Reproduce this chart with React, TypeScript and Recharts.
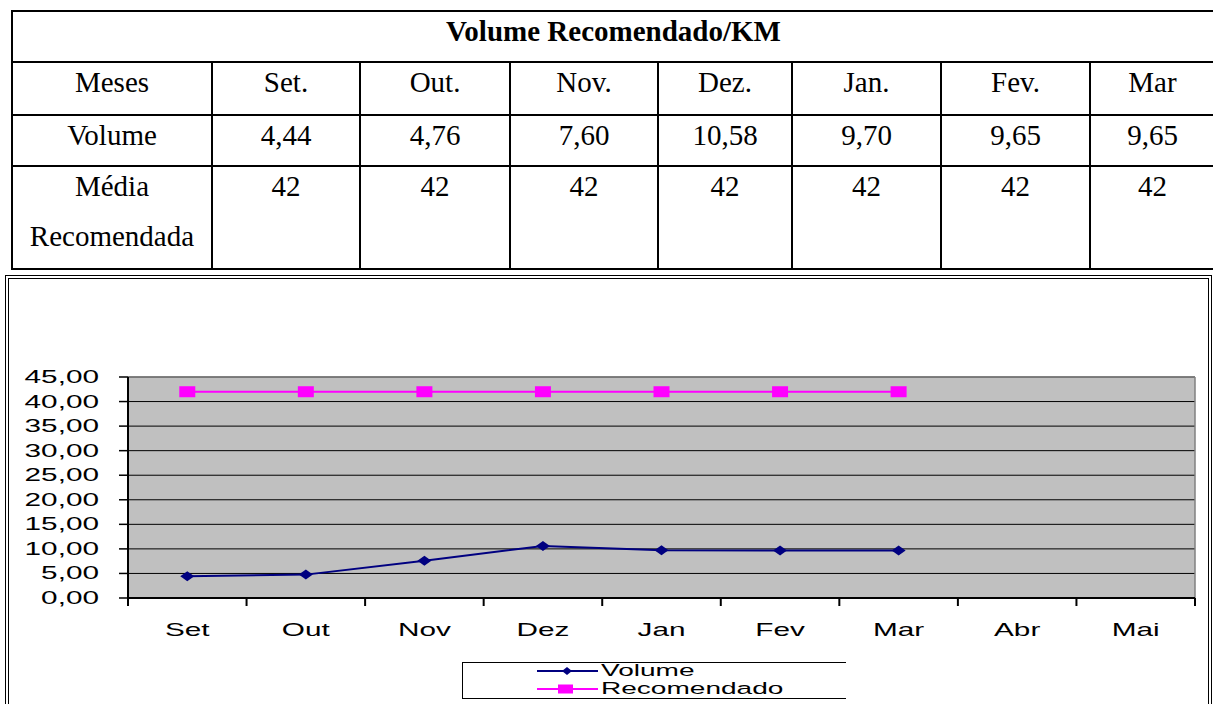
import React from 'react';
import { LineChart, Line, XAxis, YAxis, CartesianGrid } from 'recharts';

// ---- data ----
const months = ['Set', 'Out', 'Nov', 'Dez', 'Jan', 'Fev', 'Mar', 'Abr', 'Mai'];
const volumeValues: (number | null)[] = [4.44, 4.76, 7.6, 10.58, 9.7, 9.65, 9.65, null, null];
const recomendadoValues: (number | null)[] = [42, 42, 42, 42, 42, 42, 42, null, null];
const yTicks = [0, 5, 10, 15, 20, 25, 30, 35, 40, 45];

const tableTitle = 'Volume Recomendado/KM';
const tableMonths = ['Set.', 'Out.', 'Nov.', 'Dez.', 'Jan.', 'Fev.', 'Mar'];
const tableVolume = [4.44, 4.76, 7.6, 10.58, 9.7, 9.65, 9.65];
const tableMedia = [42, 42, 42, 42, 42, 42, 42];
const rowLabels = ['Meses', 'Volume', 'Média Recomendada'];

const seriesNames = ['Volume', 'Recomendado'];
const seriesColors = ['#000080', '#ff00ff'];

const data = months.map((m, i) => ({
  month: m,
  volume: volumeValues[i],
  recomendado: recomendadoValues[i],
}));

const fmt = (v: number) => v.toFixed(2).replace('.', ',');

const SANS = '"Liberation Sans", Arial, sans-serif';
const SERIF = '"Liberation Serif", "Times New Roman", serif';
const STRETCH = 1.7;

// ---- table layout ----
const colWidths = [200, 148, 150, 148, 134, 149, 149, 125];
const rowHeights = [51, 53, 51, 103];

const cellStyle: React.CSSProperties = {
  boxSizing: 'border-box',
  borderRight: '2px solid #000',
  borderBottom: '2px solid #000',
  textAlign: 'center',
  overflow: 'hidden',
};
const innerStyle: React.CSSProperties = { lineHeight: '50px', marginTop: -6 };

function DataTable() {
  const rows: (string | number)[][] = [
    [rowLabels[0], ...tableMonths],
    [rowLabels[1], ...tableVolume.map(fmt)],
    [rowLabels[2], ...tableMedia.map((v) => String(v))],
  ];
  return (
    <div
      style={{
        position: 'absolute',
        left: 11,
        top: 10,
        display: 'grid',
        gridTemplateColumns: colWidths.map((w) => w + 'px').join(' '),
        gridTemplateRows: rowHeights.map((h) => h + 'px').join(' '),
        borderLeft: '2px solid #000',
        borderTop: '2px solid #000',
        fontFamily: SERIF,
        fontSize: 29,
        color: '#000',
      }}
    >
      <div style={{ ...cellStyle, gridColumn: '1 / -1', fontWeight: 'bold' }}>
        <div style={innerStyle}>{tableTitle}</div>
      </div>
      {rows.map((r, ri) =>
        r.map((c, ci) => (
          <div key={ri + '-' + ci} style={cellStyle}>
            <div style={innerStyle}>{c}</div>
          </div>
        ))
      )}
    </div>
  );
}

// ---- chart pieces ----
const YTick = (props: any) => {
  const { x, y, payload } = props;
  return (
    <g transform={`translate(${x},${y + 6}) scale(${STRETCH},1)`}>
      <text x={0} y={0} textAnchor="end" fontFamily={SANS} fontSize={17.5} fill="#000">
        {fmt(payload.value)}
      </text>
    </g>
  );
};

const XTick = (props: any) => {
  const { x, y, payload, index, visibleTicksCount, width } = props;
  const half = width && visibleTicksCount ? width / visibleTicksCount / 2 : payload.offset || 0;
  return (
    <g>
      <line x1={x - half} x2={x - half} y1={y} y2={y + 8} stroke="#000" strokeWidth={2} />
      {index === visibleTicksCount - 1 ? (
        <line x1={x + half} x2={x + half} y1={y} y2={y + 8} stroke="#000" strokeWidth={2} />
      ) : null}
      <g transform={`translate(${x},${y + 38}) scale(${STRETCH},1)`}>
        <text x={0} y={0} textAnchor="middle" fontFamily={SANS} fontSize={17.5} fill="#000">
          {payload.value}
        </text>
      </g>
    </g>
  );
};

const DiamondDot = (props: any) => {
  const { cx, cy, stroke } = props;
  if (cx == null || cy == null) return null;
  return <polygon points={`${cx - 7},${cy} ${cx},${cy - 5} ${cx + 7},${cy} ${cx},${cy + 5}`} fill={stroke} stroke="none" />;
};

const SquareDot = (props: any) => {
  const { cx, cy, stroke } = props;
  if (cx == null || cy == null) return null;
  return <rect x={cx - 8} y={cy - 5.5} width={16} height={11} fill={stroke} stroke="none" />;
};

function LegendBox() {
  return (
    <div
      style={{
        position: 'absolute',
        left: 462,
        top: 662,
        width: 384,
        height: 37,
        boxSizing: 'border-box',
        borderLeft: '1px solid #000',
        borderTop: '1px solid #000',
        borderBottom: '1px solid #000',
      }}
    >
      <svg width={384} height={36} style={{ position: 'absolute', left: -1, top: -1 }}>
        {seriesNames.map((name, i) => {
          const ly = i === 0 ? 9 : 27;
          const color = seriesColors[i];
          return (
            <g key={name}>
              <line x1={75} x2={136} y1={ly} y2={ly} stroke={color} strokeWidth={2} />
              {i === 0 ? (
                <polygon points={`${100},${ly} ${105},${ly - 4} ${110},${ly} ${105},${ly + 4}`} fill={color} />
              ) : (
                <rect x={96} y={ly - 4.5} width={15} height={9} fill={color} />
              )}
              <g transform={`translate(139,${i === 0 ? 14 : 32}) scale(${STRETCH},1)`}>
                <text x={0} y={0} fontFamily={SANS} fontSize={16.5} fill="#000">
                  {name}
                </text>
              </g>
            </g>
          );
        })}
      </svg>
    </div>
  );
}

export default function App() {
  return (
    <div
      style={{
        position: 'absolute',
        left: 0,
        top: 0,
        width: 1213,
        height: 704,
        overflow: 'hidden',
        background: '#fff',
      }}
    >
      <DataTable />
      <div
        style={{
          position: 'absolute',
          left: 5,
          top: 275,
          width: 1207,
          height: 460,
          boxSizing: 'border-box',
          border: '4px double #000',
        }}
      />
      <div style={{ position: 'absolute', left: 0, top: 280 }}>
        <LineChart width={1213} height={424} data={data} margin={{ top: 97, right: 18, bottom: 56, left: 0 }}>
          <CartesianGrid fill="#c0c0c0" fillOpacity={1} stroke="#000" vertical={false} />
          <CartesianGrid
            fill="none"
            stroke="#808080"
            strokeWidth={1.5}
            horizontalCoordinatesGenerator={(p: any) => [p.offset.top]}
            verticalCoordinatesGenerator={(p: any) => [p.offset.left + p.offset.width]}
          />
          <XAxis
            dataKey="month"
            scale="band"
            interval={0}
            tickLine={false}
            tickSize={0}
            tickMargin={0}
            height={50}
            axisLine={{ stroke: '#000', strokeWidth: 2 }}
            tick={<XTick />}
          />
          <YAxis
            domain={[0, 45]}
            ticks={yTicks}
            interval={0}
            width={128}
            tickSize={9}
            tickMargin={20}
            axisLine={{ stroke: '#000', strokeWidth: 2 }}
            tickLine={{ stroke: '#000', strokeWidth: 1.5 }}
            tick={<YTick />}
          />
          <Line
            type="linear"
            dataKey="volume"
            name={seriesNames[0]}
            stroke={seriesColors[0]}
            strokeWidth={2}
            dot={<DiamondDot />}
            activeDot={false}
            isAnimationActive={false}
          />
          <Line
            type="linear"
            dataKey="recomendado"
            name={seriesNames[1]}
            stroke={seriesColors[1]}
            strokeWidth={2}
            dot={<SquareDot />}
            activeDot={false}
            isAnimationActive={false}
          />
        </LineChart>
      </div>
      <LegendBox />
    </div>
  );
}
